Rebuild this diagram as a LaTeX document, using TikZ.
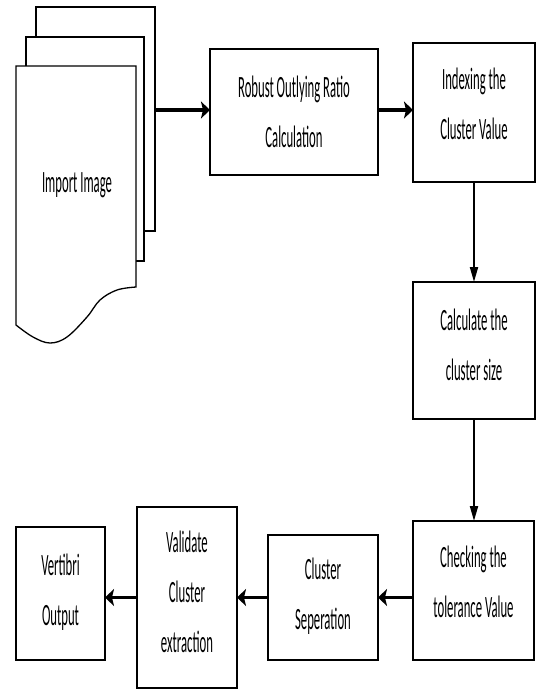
\documentclass[tikz,border=0pt]{standalone}
\usepackage{fontspec}
\setmainfont{Carlito}[FakeStretch=0.41]
\usetikzlibrary{arrows.meta}
\begin{document}
\begin{tikzpicture}[x=1pt,y=-1pt,
  box/.style={draw, line width=1.3pt, fill=white, inner sep=0pt, outer sep=0pt},
  sheet/.style={draw, line width=1.3pt, fill=white, inner sep=0pt, outer sep=0pt},
  lbl/.style={align=center, font=\fontsize{31}{50}\selectfont, inner sep=0pt},
  harrow/.style={line width=3.5pt, -{Stealth[length=9pt,width=17pt,inset=2pt]}},
  varrow/.style={line width=2pt, -{Triangle[length=15pt,width=8pt]}}]
\useasboundingbox (0,0) rectangle (538,689);

% stacked input documents
\node[sheet, minimum width=119pt, minimum height=224pt] (docback) at (95.5,119) {};
\node[sheet, minimum width=118pt, minimum height=224pt] (docmid) at (85,149) {};
\draw[sheet] (16,66) -- (136,66) -- plot[smooth, tension=0.6] coordinates
  {(136,287) (117,290) (100,300) (87,317) (67,337) (50,343) (33,337) (16,325)} -- cycle;
\node[lbl] (doctext) at (77,185) {Import Image};

% process boxes
\node[box, minimum width=168pt, minimum height=126pt] (rob) at (294,112) {};
\node[lbl] (robt) at (294,112) {Robust Outlying Ratio\\Calculation};

\node[box, minimum width=122pt, minimum height=139pt] (idx) at (474,112.5) {};
\node[lbl] (idxt) at (474,103.5) {Indexing the\\Cluster Value};

\node[box, minimum width=122pt, minimum height=137pt] (calc) at (474,350.5) {};
\node[lbl] (calct) at (474,345) {Calculate the\\cluster size};

\node[box, minimum width=121pt, minimum height=139pt] (chk) at (473.5,590.5) {};
\node[lbl] (chkt) at (473.5,582) {Checking the\\tolerance Value};

\node[box, minimum width=110pt, minimum height=125pt] (sep) at (323,597.5) {};
\node[lbl] (sept) at (323,596.5) {Cluster\\Seperation};

\node[box, minimum width=100pt, minimum height=181pt] (val) at (187,597.5) {};
\node[lbl] (valt) at (187,592) {Validate\\Cluster\\extraction};

\node[box, minimum width=89pt, minimum height=133pt] (out) at (60.5,593.5) {};
\node[lbl] (outt) at (60.5,592.5) {Vertibri\\Output};

% connectors
\draw[harrow] (docback.east |- 0,110) -- (rob.west |- 0,110);
\draw[harrow] (rob.east |- 0,110) -- (idx.west |- 0,110);
\draw[varrow] (idx.south) -- (calc.north);
\draw[varrow] (calc.south) -- (chk.north -| calc.south);
\draw[harrow] (sep.east -| chk.west) -- (sep.east);
\draw[harrow] (sep.west) -- (val.east);
\draw[harrow] (val.west) -- (val.west -| out.east);
\end{tikzpicture}
\end{document}
